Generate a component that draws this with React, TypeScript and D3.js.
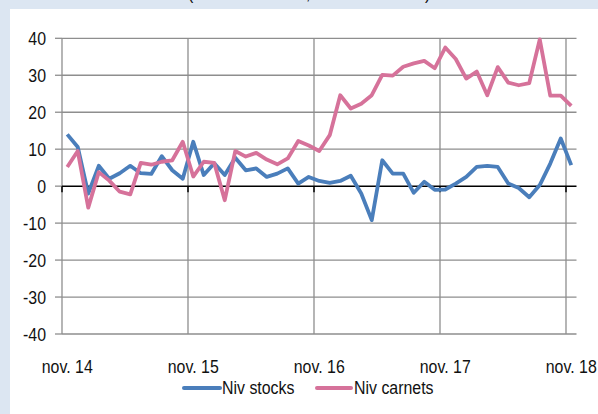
import React from "react";
import * as d3 from "d3";

const months = [
  "2014-11","2014-12","2015-01","2015-02","2015-03","2015-04","2015-05","2015-06","2015-07","2015-08","2015-09","2015-10",
  "2015-11","2015-12","2016-01","2016-02","2016-03","2016-04","2016-05","2016-06","2016-07","2016-08","2016-09","2016-10",
  "2016-11","2016-12","2017-01","2017-02","2017-03","2017-04","2017-05","2017-06","2017-07","2017-08","2017-09","2017-10",
  "2017-11","2017-12","2018-01","2018-02","2018-03","2018-04","2018-05","2018-06","2018-07","2018-08","2018-09","2018-10",
  "2018-11",
];

const nivStocks = [
  14.0, 10.6, -2.0, 5.5, 2.0, 3.5, 5.5, 3.5, 3.3, 8.1, 4.3, 2.0,
  12.0, 3.0, 6.2, 3.0, 7.7, 4.3, 4.8, 2.5, 3.4, 4.8, 0.7, 2.5,
  1.4, 0.9, 1.4, 2.8, -2.0, -9.2, 7.0, 3.4, 3.4, -1.8, 1.2, -1.0,
  -0.9, 0.7, 2.5, 5.2, 5.5, 5.2, 0.7, -0.5, -3.0, 0.3, 6.1, 12.9,
  5.7,
];

const nivCarnets = [
  5.2, 9.5, -5.8, 3.8, 1.5, -1.5, -2.2, 6.3, 5.8, 6.6, 7.0, 12.0,
  2.6, 6.6, 6.3, -3.8, 9.5, 8.0, 9.0, 7.2, 5.9, 7.5, 12.2, 11.0,
  9.5, 13.8, 24.6, 21.0, 22.3, 24.6, 30.1, 29.9, 32.3, 33.2, 33.9, 31.9,
  37.5, 34.4, 29.1, 31.0, 24.6, 32.2, 28.0, 27.3, 27.9, 39.7, 24.5, 24.5,
  21.7,
];

const yTicks = [40, 30, 20, 10, 0, -10, -20, -30, -40];
const xTickMonths = ["2014-11", "2015-11", "2016-11", "2017-11", "2018-11"];
const xTickLabels = ["nov. 14", "nov. 15", "nov. 16", "nov. 17", "nov. 18"];

const seriesNames = ["Niv stocks", "Niv carnets"];
const colors = ["#4a7ebb", "#d6729a"];

const FONT = "'Liberation Sans', Arial, sans-serif";
const FS = 18.5;
const SX = 0.86;

function T({ x, y, anchor = "start", dy, children }: { x: number; y: number; anchor?: string; dy?: string; children: React.ReactNode }) {
  return (
    <g transform={`translate(${x},${y}) scale(${SX},1)`}>
      <text x={0} y={0} dy={dy} textAnchor={anchor as any} fontFamily={FONT} fontSize={FS} fill="#111">
        {children}
      </text>
    </g>
  );
}

export default function App() {
  const W = 598, H = 414;
  const left = 62, right = 576.5, top = 38.3, bottom = 334;
  const x = d3.scaleBand<string>().domain(months).range([left, right]).padding(0);
  const y = d3.scaleLinear().domain([-40, 40]).range([bottom, top]);
  const cx = (m: string) => (x(m) as number) + x.bandwidth() / 2;

  const line = (vals: number[]) =>
    d3.line<number>().x((_, i) => cx(months[i])).y((v) => y(v))(vals) as string;

  const grid = "#8e8e8e";

  return (
    <svg width={W} height={H} style={{ position: "absolute", left: 0, top: 0 }}>
      <rect x={0} y={0} width={W} height={H} fill="#dce6f2" />
      <rect x={10} y={9} width={W - 10} height={H - 9} fill="#ffffff" />
      <T x={188} y={-1}>(</T>
      <T x={306} y={-1}>,</T>
      <T x={425} y={-1}>)</T>
      {yTicks.filter((t) => t !== 0).map((t) => (
        <line key={"h" + t} x1={left} x2={right} y1={y(t)} y2={y(t)} stroke={grid} strokeWidth={1.3} />
      ))}
      {xTickMonths.map((m) => (
        <line key={"v" + m} x1={x(m) as number} x2={x(m) as number} y1={top} y2={bottom} stroke={grid} strokeWidth={1.3} />
      ))}
      {yTicks.map((t) => (
        <line key={"yt" + t} x1={left - 7} x2={left} y1={y(t)} y2={y(t)} stroke={grid} strokeWidth={1.3} />
      ))}
      <line x1={left} x2={right} y1={y(0)} y2={y(0)} stroke="#000" strokeWidth={1.5} />
      {xTickMonths.map((m) => (
        <line key={"xt" + m} x1={x(m) as number} x2={x(m) as number} y1={y(0)} y2={y(0) + 6} stroke="#000" strokeWidth={1.5} />
      ))}
      {yTicks.map((t) => (
        <T key={"yl" + t} x={46} y={y(t)} dy="0.36em" anchor="end">{t}</T>
      ))}
      {xTickMonths.map((m, i) => (
        <T key={"xl" + m} x={cx(m)} y={373} anchor="middle">{xTickLabels[i]}</T>
      ))}
      <path d={line(nivStocks)} fill="none" stroke={colors[0]} strokeWidth={3.8} strokeLinejoin="round" />
      <path d={line(nivCarnets)} fill="none" stroke={colors[1]} strokeWidth={3.8} strokeLinejoin="round" />
      <line x1={184} x2={220} y1={388} y2={388} stroke={colors[0]} strokeWidth={4} strokeLinecap="round" />
      <T x={222} y={394}>{seriesNames[0]}</T>
      <line x1={317} x2={351} y1={388} y2={388} stroke={colors[1]} strokeWidth={4} strokeLinecap="round" />
      <T x={354} y={394}>{seriesNames[1]}</T>
    </svg>
  );
}
